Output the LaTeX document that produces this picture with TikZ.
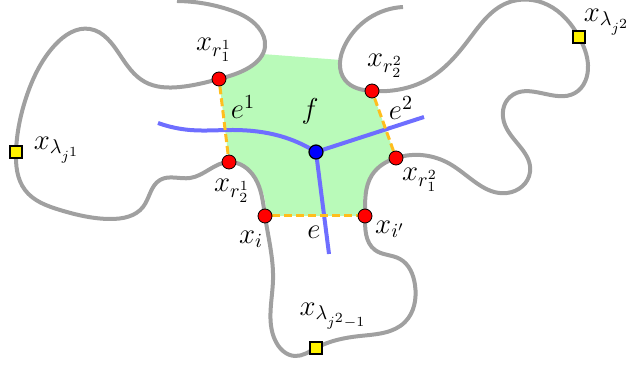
\documentclass[tikz,border=0pt]{standalone}
\usepackage{xcolor}
\usepackage{tikz}
\usetikzlibrary{positioning,backgrounds,hobby}
\definecolor{facegreen}{RGB}{185,250,185}
\definecolor{curvegray}{RGB}{160,160,160}
\definecolor{cutorange}{RGB}{255,190,30}
\definecolor{dualblue}{RGB}{110,110,255}

\begin{document}
\begin{tikzpicture}[
  x=0.5pt, y=-0.5pt,
  vtx/.style={draw, circle, fill=red, inner sep=0pt, minimum size=7pt, line width=0.4pt},
  fvtx/.style={draw, circle, fill=blue, inner sep=0pt, minimum size=7pt, line width=0.6pt},
  sq/.style={draw, rectangle, fill=yellow, inner sep=0pt, minimum size=6pt, line width=0.9pt},
  lbl/.style={inner sep=0pt, font=\Large},
  bdry/.style={draw=curvegray, line width=2pt, use Hobby shortcut},
  cut/.style={draw=cutorange, line width=1.5pt, dash pattern=on 4pt off 2pt},
  dual/.style={draw=dualblue, line width=2pt}
]
\useasboundingbox (0,0) rectangle (633,368);

  % points on the curve
  \node[vtx] (r11) at (219,79)  {};
  \node[vtx] (r21) at (229,162) {};
  \node[vtx] (xi)  at (265,216) {};
  \node[vtx] (xip) at (365,216) {};
  \node[vtx] (r12) at (396,158) {};
  \node[vtx] (r22) at (372,91)  {};
  \node[sq]  (s1)  at (16,152)  {};
  \node[sq]  (s2)  at (579,37)  {};
  \node[sq]  (s3)  at (316,348) {};

  % face vertex
  \node[fvtx] (f) at (316,152) {};

  % free ends
  \coordinate (dl) at (158,123);
  \coordinate (dr) at (424,117);
  \coordinate (dd) at (329,254);

  % labels
  \node[lbl] (lr11) at (214,50)  {$x_{r_1^1}$};
  \node[lbl] (le1)  at (243,107) {$e^1$};
  \node[lbl] (lf)   at (310,111) {$f$};
  \node[lbl] (le2)  at (401,108) {$e^2$};
  \node[lbl] (lr22) at (385,66)  {$x_{r_2^2}$};
  \node[lbl] (ls2)  at (607,22)  {$x_{\lambda_{j^2}}$};
  \node[lbl] (ls1)  at (57,150)  {$x_{\lambda_{j^1}}$};
  \node[lbl] (lr21) at (232,191) {$x_{r_2^1}$};
  \node[lbl] (lr12) at (420,180) {$x_{r_1^2}$};
  \node[lbl] (lxi)  at (251,239) {$x_i$};
  \node[lbl] (le)   at (314,232) {$e$};
  \node[lbl] (lxip) at (390,229) {$x_{i'}$};
  \node[lbl] (ls3)  at (333,316) {$x_{\lambda_{j^2-1}}$};

  \begin{scope}[on background layer]
    % face
    \fill[facegreen, use Hobby shortcut] (r11.center) .. (250,67) .. (262,54)
      -- (341,60) .. (345,80) .. (r22.center)
      -- (r12.center) .. (372,175) .. (xip.center)
      -- (xi.center) .. (255,178) .. (r21.center)
      -- cycle;

    % boundary curve
    \draw[bdry] (177,1) .. (227,9) .. (258,27) .. (265,47) .. (250,67) .. (r11.center)
      .. (180,87) .. (145,82) .. (120,55) .. (90,29) .. (55,45) .. (27,95) .. (s1.center)
      .. (25,190) .. (60,210) .. (110,219) .. (143,207) .. (160,180) .. (190,178) .. (r21.center)
      .. (255,178) .. (xi.center)
      .. (273,280) .. (275,340) .. (295,356) .. (s3.center)
      .. (360,336) .. (405,322) .. (415,285) .. (400,259) .. (375,250) .. (xip.center)
      .. (372,175) .. (r12.center)
      .. (450,164) .. (507,193) .. (530,172) .. (505,125) .. (510,97) .. (575,93) .. (588,65) .. (s2.center)
      .. (548,5) .. (507,3) .. (470,38) .. (430,78) .. (r22.center)
      .. (345,80) .. (345,45) .. (403,7);

    % dual edges
    \draw[dual, use Hobby shortcut] (f.center) .. (280,136) .. (233,130) .. (190,130) .. (dl);
    \draw[dual] (f.center) -- (dr);
    \draw[dual] (f.center) -- (dd);

    % cut edges
    \draw[cut] (r11) -- (r21);
    \draw[cut] (xi) -- (xip);
    \draw[cut] (r12) -- (r22);
  \end{scope}

\end{tikzpicture}
\end{document}
